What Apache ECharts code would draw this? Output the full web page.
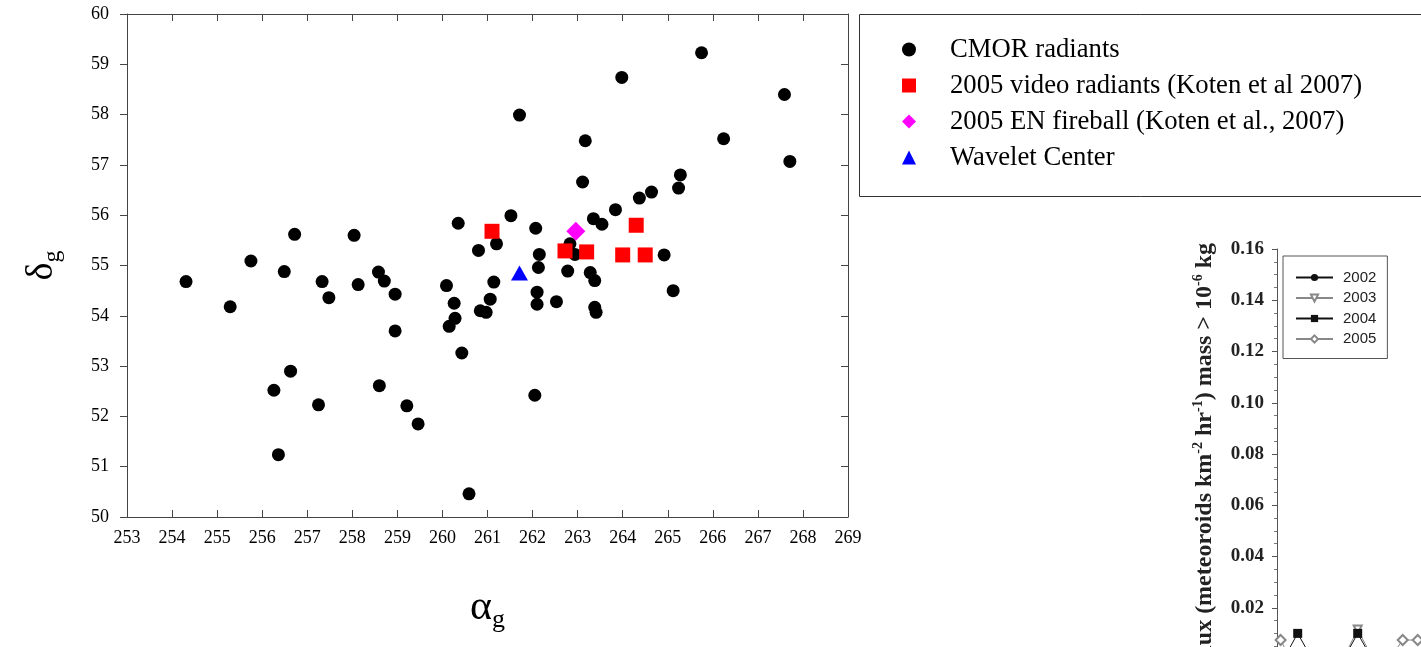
<!DOCTYPE html>
<html><head><meta charset="utf-8">
<script src="https://cdn.jsdelivr.net/npm/echarts@6/dist/echarts.min.js"></script>
<style>html,body{margin:0;padding:0;background:#fff}#c{width:1421px;height:647px}</style>
</head><body><div id="c"></div>
<script>
// ---- main chart data: [alpha_g, delta_g] ----
const cmorRadiants = [
  [254.31,54.68],[255.29,54.18],[255.75,55.09],[256.26,52.52],[256.36,51.24],
  [256.49,54.88],[256.63,52.90],[256.72,55.62],[257.25,52.23],[257.33,54.68],
  [257.48,54.36],[258.04,55.60],[258.13,54.62],[258.58,54.87],[258.71,54.69],
  [258.60,52.61],[258.95,54.43],[258.95,53.70],[259.21,52.21],[259.46,51.85],
  [260.09,54.60],[260.26,54.25],[260.28,53.95],[260.15,53.79],[260.43,53.26],
  [260.35,55.84],[260.59,50.46],[260.80,55.30],[260.84,54.10],[260.97,54.07],
  [261.06,54.33],[261.14,54.67],[261.20,55.43],[261.52,55.99],[261.71,57.99],
  [262.05,52.42],[262.07,55.74],[262.10,54.47],[262.10,54.23],[262.13,54.96],
  [262.15,55.22],[262.53,54.28],[262.78,54.89],[262.83,55.43],[262.94,55.22],
  [263.11,56.66],[263.17,57.48],[263.28,54.86],[263.38,54.70],[263.35,55.93],
  [263.54,55.82],[263.38,54.17],[263.41,54.07],[263.84,56.11],[263.98,58.74],
  [264.37,56.34],[264.64,56.46],[264.92,55.21],[265.12,54.50],[265.24,56.54],
  [265.28,56.80],[265.75,59.23],[266.24,57.52],[267.59,58.40],[267.71,57.07]
];
const videoRadiants = [
  [261.10,55.68],[264.30,55.80],[262.72,55.29],[263.20,55.27],[264.00,55.21],[264.50,55.21]
];
const enFireball = [[262.96,55.68]];
const waveletCenter = [[261.71,54.85]];
const seriesNames = [
  'CMOR radiants',
  '2005 video radiants (Koten et al 2007)',
  '2005 EN fireball (Koten et al., 2007)',
  'Wavelet Center'
];

// ---- partial inset (flux plot, mostly cut off) : [x position, flux] ----
const fluxYears = ['2002','2003','2004','2005'];
const flux2002 = [[0.3,0],[1.5,0],[2.5,0],[3.5,0]];
const flux2003 = [[2.2,0],[2.69,0.0115],[3.2,0]];
const flux2004 = [[0.22,0],[0.69,0.0100],[1.17,0],[2.22,0],[2.69,0.0100],[3.17,0]];
const flux2005 = [[0.12,0.0074],[0.45,0],[3.75,0],[4.19,0.0074],[4.69,0.0074]];

const serif = 'Liberation Serif';
const chart = echarts.init(document.getElementById('c'));
const axisLine = {show:true, lineStyle:{color:'#444', width:1}};

chart.setOption({
  animation:false,
  backgroundColor:'#fff',
  grid:[
    {left:127, top:14, right:573, bottom:130, outerBoundsMode:'none', containLabel:false},
    {left:1277, top:249, right:-6, bottom:-12, outerBoundsMode:'none', containLabel:false}
  ],
  xAxis:[
    {gridIndex:0, type:'value', position:'bottom', min:253, max:269, interval:1,
     axisLine:axisLine, axisTick:{inside:true, length:7, lineStyle:{color:'#444'}},
     splitLine:{show:false},
     axisLabel:{fontFamily:serif, fontSize:18, color:'#000', margin:12},
     name:'{a|α}{b|g}', nameLocation:'middle', nameGap:66,
     nameTextStyle:{rich:{
       a:{fontFamily:serif, fontSize:42, lineHeight:50, color:'#000'},
       b:{fontFamily:serif, fontSize:26, verticalAlign:'bottom', lineHeight:26, color:'#000'}
     }}},
    {gridIndex:0, type:'value', position:'top', min:253, max:269, interval:1,
     axisLine:axisLine, axisTick:{inside:true, length:7, lineStyle:{color:'#444'}},
     axisLabel:{show:false}, splitLine:{show:false}},
    {gridIndex:1, type:'value', position:'top', min:0, max:5, interval:1,
     axisLine:{show:true, lineStyle:{color:'#555', width:1}},
     axisTick:{inside:true, length:5, lineStyle:{color:'#555'}},
     axisLabel:{show:false}, splitLine:{show:false}}
  ],
  yAxis:[
    {gridIndex:0, type:'value', position:'left', min:50, max:60, interval:1,
     axisLine:axisLine, axisTick:{inside:false, length:7, lineStyle:{color:'#444'}},
     splitLine:{show:false},
     axisLabel:{fontFamily:serif, fontSize:18, color:'#000', margin:18},
     name:'{a|δ}{b|g}', nameLocation:'middle', nameGap:62, nameRotate:90,
     nameTextStyle:{rich:{
       a:{fontFamily:serif, fontSize:38, lineHeight:46, color:'#000'},
       b:{fontFamily:serif, fontSize:24, verticalAlign:'bottom', lineHeight:24, color:'#000'}
     }}},
    {gridIndex:0, type:'value', position:'right', min:50, max:60, interval:1,
     axisLine:axisLine, axisTick:{inside:true, length:7, lineStyle:{color:'#444'}},
     axisLabel:{show:false}, splitLine:{show:false}},
    {gridIndex:1, type:'value', position:'left', min:0, max:0.16, interval:0.02,
     axisLine:{show:true, lineStyle:{color:'#555', width:1}},
     axisTick:{inside:false, length:5, lineStyle:{color:'#555'}},
     minorTick:{show:true, splitNumber:4, length:3, lineStyle:{color:'#777'}},
     splitLine:{show:false},
     axisLabel:{fontFamily:serif, fontSize:19, fontWeight:'bold', color:'#222', margin:13,
       formatter:v=>v.toFixed(2)}}
  ],
  legend:[
    {data:seriesNames, orient:'vertical', left:897, top:31, itemGap:9,
     itemWidth:14, itemHeight:14,
     textStyle:{fontFamily:serif, fontSize:26.7, lineHeight:26, color:'#000', padding:[0,0,0,29]}},
    {data:fluxYears, orient:'vertical', left:1283, top:256, padding:[14,11,12,12],
     itemGap:5.5, itemWidth:37, itemHeight:9, borderColor:'#555', borderWidth:1,
     textStyle:{fontFamily:'Liberation Sans', fontSize:15, lineHeight:15, color:'#222', padding:[0,0,0,5]}}
  ],
  graphic:[
    {type:'rect', left:857, top:12, shape:{width:620, height:182},
     style:{fill:'none', stroke:'#333', lineWidth:1}, silent:true},
    {type:'text', x:1205, y:243, rotation:Math.PI/2, silent:true,
     style:{
       text:'{n|Flux (meteoroids km}{s|-2}{n| hr}{s|-1}{n|) mass > 10}{s|-6}{n| kg}',
       align:'right', verticalAlign:'middle',
       rich:{
         n:{fontFamily:serif, fontSize:24, fontWeight:'bold', fill:'#222', lineHeight:28},
         s:{fontFamily:serif, fontSize:14, fontWeight:'bold', fill:'#222', verticalAlign:'top', lineHeight:14}
       }}}
  ],
  series:[
    {name:seriesNames[0], type:'scatter', xAxisIndex:0, yAxisIndex:0, data:cmorRadiants,
     symbol:'circle', symbolSize:13, itemStyle:{color:'#000', opacity:1}},
    {name:seriesNames[1], type:'scatter', xAxisIndex:0, yAxisIndex:0, data:videoRadiants,
     symbol:'rect', symbolSize:15, itemStyle:{color:'#ff0000', opacity:1}},
    {name:seriesNames[2], type:'scatter', xAxisIndex:0, yAxisIndex:0, data:enFireball,
     symbol:'diamond', symbolSize:19, itemStyle:{color:'#ff00ff', opacity:1}},
    {name:seriesNames[3], type:'scatter', xAxisIndex:0, yAxisIndex:0, data:waveletCenter,
     symbol:'triangle', symbolSize:[17,15], itemStyle:{color:'#0000ff', opacity:1}},
    {name:'2002', type:'line', xAxisIndex:2, yAxisIndex:2, data:flux2002,
     symbol:'circle', symbolSize:7, lineStyle:{color:'#111', width:1}, itemStyle:{color:'#111'}},
    {name:'2003', type:'line', xAxisIndex:2, yAxisIndex:2, data:flux2003,
     symbol:'emptyTriangle', symbolRotate:180, symbolSize:8, lineStyle:{color:'#888', width:1}, itemStyle:{color:'#888'}},
    {name:'2004', type:'line', xAxisIndex:2, yAxisIndex:2, data:flux2004,
     symbol:'rect', symbolSize:9, lineStyle:{color:'#111', width:1}, itemStyle:{color:'#111'}},
    {name:'2005', type:'line', xAxisIndex:2, yAxisIndex:2, data:flux2005,
     symbol:'emptyDiamond', symbolSize:10, lineStyle:{color:'#888', width:1}, itemStyle:{color:'#888'}}
  ]
});
</script>
</body></html>
